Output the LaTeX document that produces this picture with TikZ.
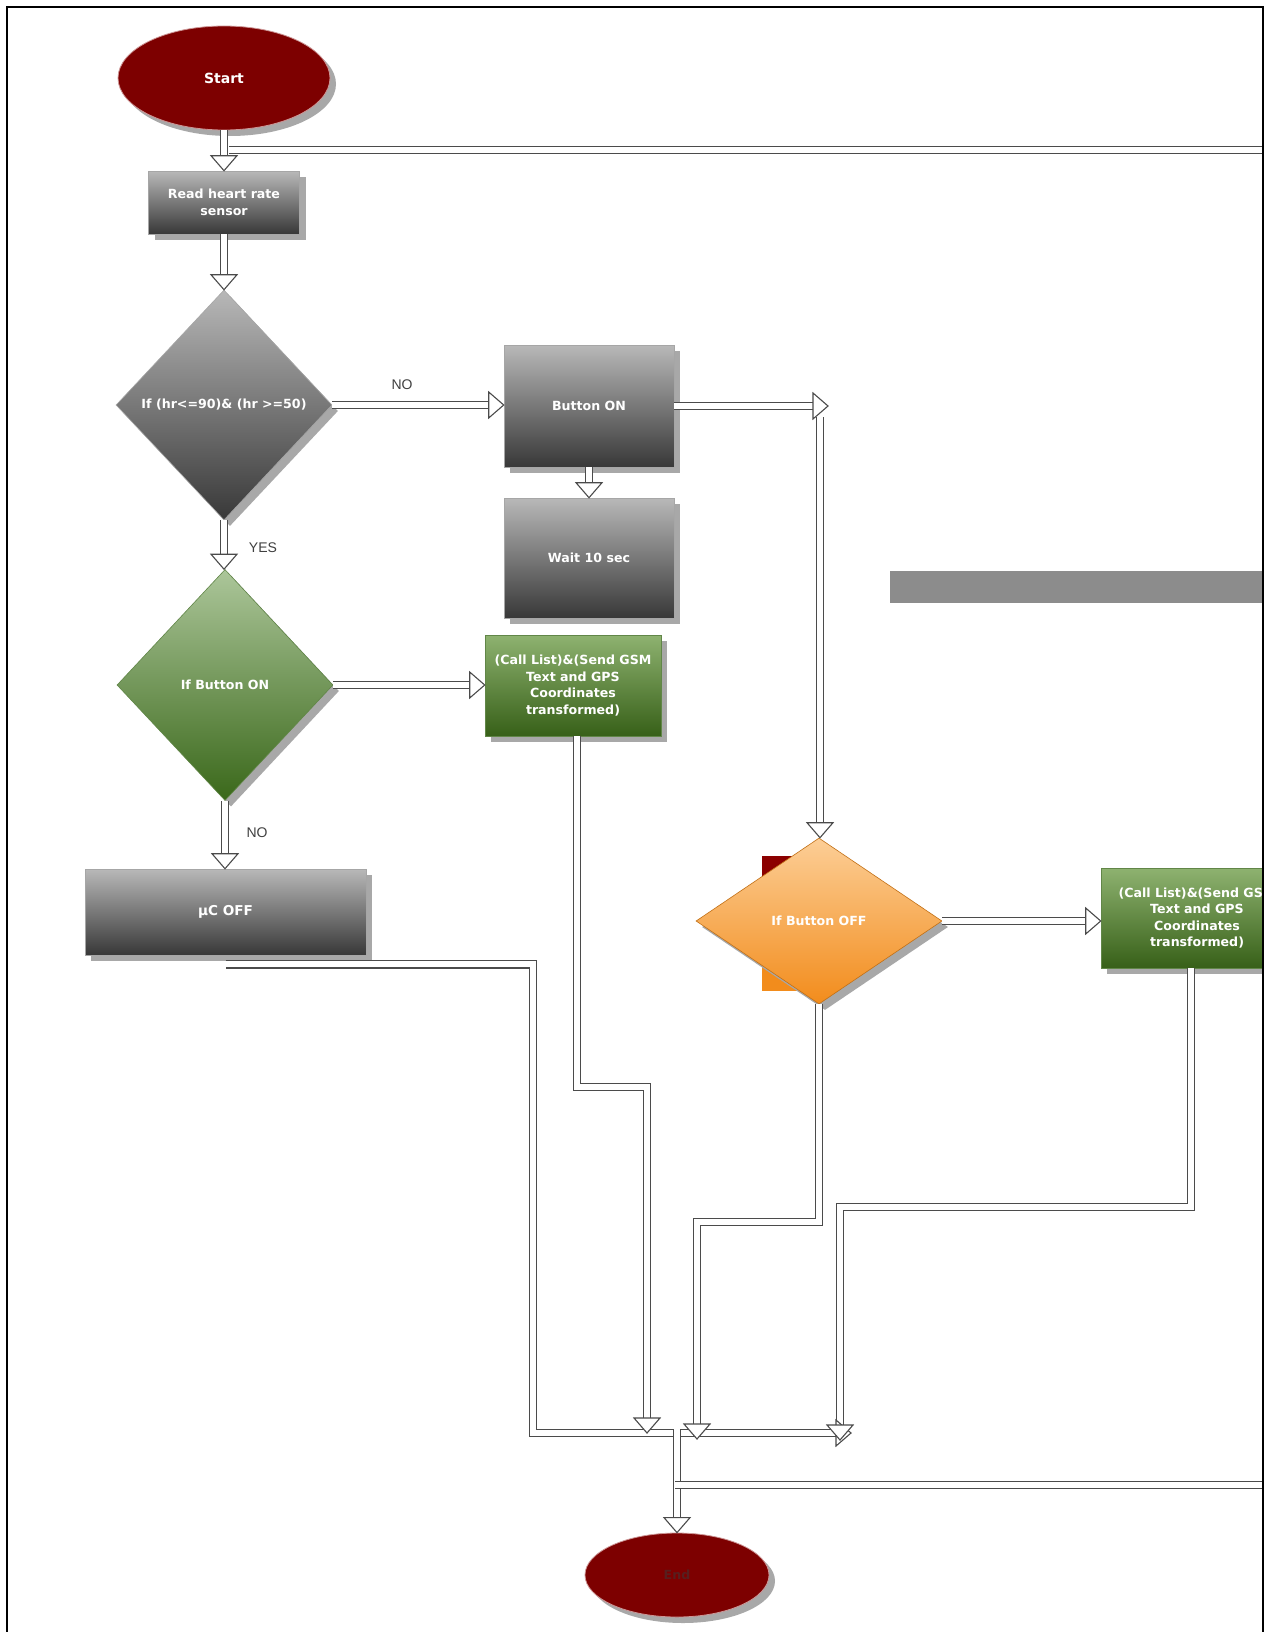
\documentclass[tikz,border=0pt]{standalone}
\usepackage{fontspec}
\setmainfont{DejaVu Sans}
\newfontfamily\lblfont{Liberation Sans}
\usetikzlibrary{shapes.geometric,shadows}

\definecolor{maroonA}{RGB}{125,0,0}
\definecolor{maroonEdge}{RGB}{205,150,150}
\definecolor{grayTop}{RGB}{184,184,184}
\definecolor{grayBot}{RGB}{56,56,56}
\definecolor{greenTop}{RGB}{172,198,154}
\definecolor{greenBot}{RGB}{58,104,26}
\definecolor{gboxTop}{RGB}{142,178,112}
\definecolor{gboxBot}{RGB}{55,96,24}
\definecolor{orTop}{RGB}{252,206,150}
\definecolor{orBot}{RGB}{242,140,28}
\definecolor{shad}{RGB}{168,168,168}
\definecolor{lineC}{RGB}{75,75,75}
\definecolor{barC}{RGB}{140,140,140}
\definecolor{endTxt}{RGB}{88,30,30}
\definecolor{darkRed}{RGB}{139,0,0}

\newcommand\headDown[1]{\draw[headst] (#1) -- ++(-13,-15) -- ++(26,0) -- cycle;}
\newcommand\headRight[1]{\draw[headst] (#1) -- ++(-15,-13) -- ++(0,26) -- cycle;}

\begin{document}
\begin{tikzpicture}[x=0.5pt,y=-0.5pt,
  shadowed/.style={general shadow={fill=shad, shadow xshift=3pt, shadow yshift=-3pt}},
  txt/.style={text=white, font=\bfseries\fontsize{6.3pt}{8.2pt}\selectfont, align=center, inner sep=0pt},
  term/.style={ellipse, fill=maroonA, draw=maroonEdge, line width=0.4pt, shadowed, inner sep=0pt},
  graybox/.style={rectangle, top color=grayTop, bottom color=grayBot, draw=gray!70, line width=0.3pt, shadowed, inner sep=0pt},
  graydia/.style={diamond, top color=grayTop, bottom color=grayBot, draw=gray!70, line width=0.3pt, shadowed, inner sep=0pt},
  greendia/.style={diamond, top color=greenTop, bottom color=greenBot, draw=greenBot!80, line width=0.3pt, shadowed, inner sep=0pt},
  greenbox/.style={rectangle, top color=gboxTop, bottom color=gboxBot, draw=greenBot!80, line width=0.3pt, shadowed, inner sep=0pt},
  orangedia/.style={diamond, top color=orTop, bottom color=orBot, draw=orBot!80!black, line width=0.3pt, shadowed, inner sep=0pt},
  dl/.style={draw=lineC, line width=0.55pt, double=white, double distance=3.1pt},
  headst/.style={draw=lineC, fill=white, line width=0.55pt, line join=miter},
  lbl/.style={font=\lblfont\fontsize{7pt}{8pt}\selectfont, text=black!75, inner sep=0pt}
]
\useasboundingbox (0,0) rectangle (1272,1632);
\fill[white] (0,0) rectangle (1272,1632);

\begin{scope}
\clip (0,0) rectangle (1263,1632);

% decorative shapes
\fill[barC] (890,571) rectangle (1263,603);
\fill[darkRed] (762,856) rectangle (822,923);
\fill[orBot] (762,923) rectangle (822,991);

% nodes
\node[term, minimum width=106pt, minimum height=52pt] (start) at (224,78) {};
\node[txt, font=\bfseries\fontsize{7pt}{8pt}\selectfont] (startT) at (start) {Start};

\node[graybox, minimum width=75.5pt, minimum height=31.5pt] (read) at (224,202.5) {};
\node[txt] (readT) at (read) {Read heart rate\\sensor};

\node[graydia, minimum width=108pt, minimum height=115pt] (d1) at (224,405) {};
\node[txt] (d1T) at (d1) {If (hr<=90)\& (hr >=50)};

\node[graybox, minimum width=85pt, minimum height=61pt] (btnon) at (589,406) {};
\node[txt] (btnonT) at (btnon) {Button ON};

\node[graybox, minimum width=85pt, minimum height=60pt] (wait) at (589,558) {};
\node[txt] (waitT) at (wait) {Wait 10 sec};

\node[greendia, minimum width=108pt, minimum height=115.5pt] (d2) at (225,685) {};
\node[txt] (d2T) at (d2) {If Button ON};

\node[greenbox, minimum width=88pt, minimum height=50.5pt] (call1) at (573,685.5) {};
\node[txt] (call1T) at (call1) {(Call List)\&(Send GSM\\Text and GPS\\Coordinates\\transformed)};

\node[graybox, minimum width=140.5pt, minimum height=43pt] (ucoff) at (225.5,912) {};
\node[txt, font=\bfseries\fontsize{6.8pt}{8pt}\selectfont] (ucoffT) at (ucoff) {µC OFF};

\node[orangedia, minimum width=123pt, minimum height=83pt] (d3) at (819,921) {};
\node[txt] (d3T) at (d3) {If Button OFF};

\node[greenbox, minimum width=96pt, minimum height=50pt] (call2) at (1197,918) {};
\node[txt] (call2T) at (call2) {(Call List)\&(Send GSM\\Text and GPS\\Coordinates\\transformed)};

\node[term, minimum width=92pt, minimum height=42pt] (end) at (677,1575) {};
\node[txt, text=endTxt, font=\bfseries\fontsize{6.3pt}{8pt}\selectfont] (endT) at (end) {End};

% labels
\node[lbl] (noA) at (402,385) {NO};
\node[lbl] (yesA) at (263,548) {YES};
\node[lbl] (noB) at (257,833) {NO};

% coordinates
\coordinate (tin) at (1263,150);
\coordinate (tend) at (229,150);
\coordinate (bturn) at (828,406);
\coordinate (bdown) at (820,417);
\coordinate (jl) at (533,1433);
\coordinate (jr) at (851,1433);
\coordinate (kc) at (647,1087);
\coordinate (kt) at (647,1433);
\coordinate (lc) at (697,1222);
\coordinate (lt) at (697,1439);
\coordinate (mc) at (840,1207);
\coordinate (mt) at (840,1440);
\coordinate (jn) at (677,1429);
\coordinate (ostart) at (675,1485);
\coordinate (oend) at (1263,1485);

% connectors
\draw[dl] (tin) -- (tend);
\draw[dl, shorten >=7pt] (start.south) -- (read.north); \headDown{read.north}
\draw[dl, shorten >=7pt] (read.south) -- (d1.north); \headDown{d1.north}
\draw[dl, shorten >=7pt] (d1.east) -- (d1.east -| btnon.west); \headRight{d1.east -| btnon.west}
\draw[dl, shorten >=7pt] (btnon.south) -- (wait.north); \headDown{wait.north}
\draw[dl, shorten >=7pt] (d1.south) -- (d1.south |- d2.north); \headDown{d1.south |- d2.north}
\draw[dl, shorten >=7pt] (d2.east) -- (d2.east -| call1.west); \headRight{d2.east -| call1.west}
\draw[dl, shorten >=7pt] (d2.south) -- (d2.south |- ucoff.north); \headDown{d2.south |- ucoff.north}
\draw[dl, shorten >=7pt] (btnon.east) -- (bturn); \headRight{bturn}
\draw[dl, shorten >=7pt] (bdown) -- (bdown |- d3.north); \headDown{bdown |- d3.north}
\draw[dl, shorten >=7pt] (d3.east) -- (d3.east -| call2.west); \headRight{d3.east -| call2.west}

\draw[dl, shorten >=7pt] ([yshift=-4.5pt]ucoff.south) -| (jl) -- (jr);
\draw[dl, shorten >=7pt] ([xshift=2pt]call1.south) |- (kc) -- (kt);
\draw[dl, shorten >=7pt] (d3.south) |- (lc) -- (lt);
\draw[dl, shorten >=7pt] ([xshift=-3pt]call2.south) |- (mc) -- (mt);
\draw[dl, shorten >=7pt] (jn) -- (jn |- end.north);
\draw[dl] (ostart) -- (oend);
\headRight{jr}
\headDown{kt}
\headDown{lt}
\headDown{mt}
\headDown{jn |- end.north}
\end{scope}

% frame
\draw[line width=1pt] (7,1632) -- (7,7) -- (1263,7) -- (1263,1632);
\end{tikzpicture}
\end{document}
